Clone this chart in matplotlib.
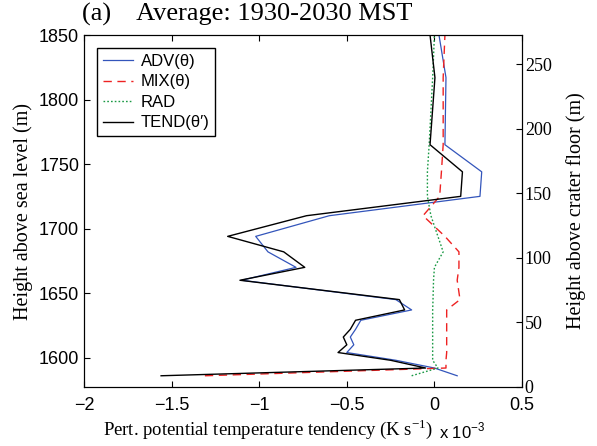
import matplotlib
matplotlib.use("Agg")
import matplotlib.pyplot as plt

# heights of model levels (m above sea level)
height = [1586, 1592, 1598, 1604, 1610, 1616, 1622, 1629, 1637, 1645,
          1660, 1670, 1682, 1694, 1710, 1725, 1744, 1765, 1817, 1850]

# tendencies in units of 1e-3 K/s
adv = [0.13, 0.0, -0.22, -0.5, -0.46, -0.48, -0.45, -0.42, -0.13, -0.22,
       -1.10, -0.79, -0.95, -1.02, -0.60, 0.26, 0.27, 0.06, 0.066, 0.026]
mix = [-1.31, 0.066, 0.066, 0.07, 0.07, 0.07, 0.07, 0.07, 0.07, 0.146,
       0.13, 0.14, 0.14, 0.06, -0.065, 0.03, 0.04, 0.05, 0.05, 0.06]
rad = [-0.13, 0.02, -0.01, -0.01, -0.01, -0.01, -0.01, -0.01, -0.01, -0.008,
       -0.005, 0.0, 0.05, 0.02, -0.02, -0.04, -0.04, -0.03, -0.01, 0.0]
tend = [-1.56, -0.05, -0.25, -0.55, -0.5, -0.52, -0.48, -0.45, -0.17, -0.2,
        -1.11, -0.74, -0.86, -1.18, -0.73, 0.15, 0.16, -0.025, 0.003, -0.025]

floor = 1577.3  # crater floor height (m)

serif = "Liberation Serif"
sans = "Liberation Sans"

fig = plt.figure(figsize=(5.97, 4.46), dpi=100)
ax = fig.add_axes([0.1407, 0.1323, 0.7337, 0.7892])

ax.plot(adv, height, color="#3355bb", lw=0.9, label="ADV(θ)")
ax.plot(mix, height, color="#ee2222", lw=1.0, ls=(0, (6, 4)), label="MIX(θ)")
ax.plot(rad, height, color="#1a9944", lw=1.0, ls=(0, (1.2, 1.5)), label="RAD")
ax.plot(tend, height, color="black", lw=1.0, label="TEND(θ′)")

ax.set_xlim(-2, 0.5)
ax.set_ylim(floor, 1850)
ax.set_xticks([-2, -1.5, -1, -0.5, 0, 0.5])
ax.set_xticklabels(["\u22122", "\u22121.5", "\u22121", "\u22120.5", "0", "0.5"])
ax.set_yticks([1600, 1650, 1700, 1750, 1800, 1850])
ax.tick_params(direction="in", length=4, top=True, right=False, labelsize=13)
ax.tick_params(axis="x", pad=7)
for lab in ax.get_xticklabels() + ax.get_yticklabels():
    lab.set_family(sans)

ax.set_xlabel("Pert. potential temperature tendency (K s$^{\\mathregular{-1}}$)",
              family=serif, fontsize=13.5)
ax.xaxis.set_label_coords(0.42, -0.085, transform=ax.transAxes)
ax.xaxis.label.set_va("top")
ax.set_ylabel("Height above sea level (m)", family=serif, fontsize=14.5)
fig.text(82 / 597, 1 - 3 / 446, "(a)    Average: 1930-2030 MST", family=serif,
         fontsize=19, ha="left", va="top")
ax.text(0.81, -0.095, "x 10$^{\\mathregular{-3}}$", transform=ax.transAxes,
        family=sans, fontsize=12, ha="left", va="top")

leg = ax.legend(loc="upper left", bbox_to_anchor=(0.03, 0.963), prop={"family": sans, "size": 12},
                fancybox=False, edgecolor="black", handlelength=1.8, borderpad=0.35,
                labelspacing=0.33, handletextpad=0.45, framealpha=1, borderaxespad=0)
leg.get_frame().set_linewidth(1.0)

ax2 = ax.twinx()
ax2.set_ylim(0, 1850 - floor)
ax2.set_yticks([0, 50, 100, 150, 200, 250])
ax2.tick_params(direction="in", length=4, labelsize=13, pad=2)
for lab in ax2.get_yticklabels():
    lab.set_family(serif)
ax2.set_ylabel("Height above crater floor (m)", family=serif, fontsize=14.5, labelpad=10)

fig.savefig("out.png", dpi=100)
